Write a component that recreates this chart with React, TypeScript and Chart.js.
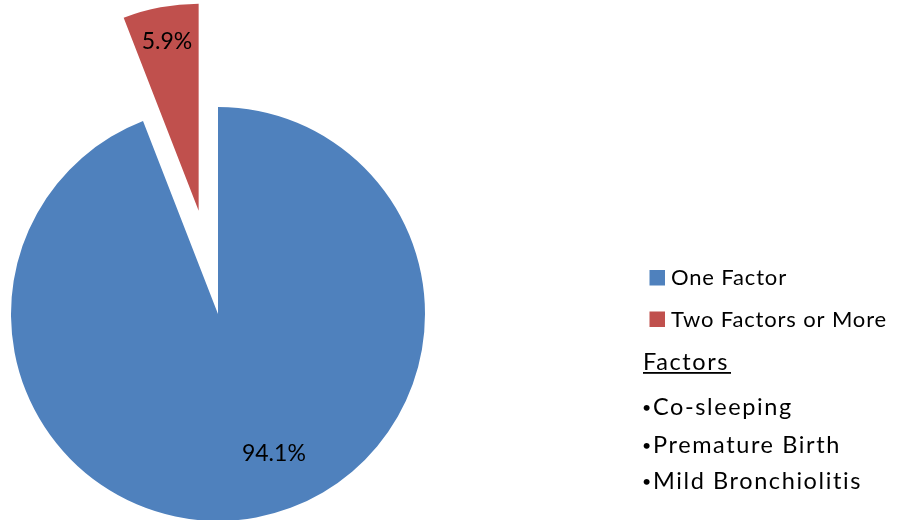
import React, { useEffect, useRef } from "react";
import { Chart, registerables } from "chart.js";

Chart.register(...registerables);

// ---- data ----
const categories = ["One Factor", "Two Factors or More"];
const shares = [94.1, 5.9];
const valueLabels = ["94.1%", "5.9%"];
const notesTitle = "Factors";
const notesItems = ["Co-sleeping", "Premature Birth", "Mild Bronchiolitis"];

// ---- styles / layout ----
const sliceColors = ["#4F81BD", "#C0504D"];
const explodeOffsets = [0, 105];
const labelAngleFractions = [0.467, 0.5];
const labelRadiusFractions = [0.727, 0.83];
const FONT_FAMILY = "Lato, 'Noto Sans', sans-serif";
const LABEL_FONT_SIZE = 23;
const LEGEND_FONT_SIZE = 22;
const LEGEND_SPACING = "0.85px";
const NOTES_FONT_SIZE = 23.5;
const NOTES_SPACING = "1.6px";

const W = 903;
const H = 520;

const overlayPlugin = {
  id: "explodeAndText",
  beforeDatasetDraw(chart: any, args: any) {
    const ctx = chart.ctx;
    const meta = args.meta;
    meta.data.forEach((arc: any, i: number) => {
      const mid = (arc.startAngle + arc.endAngle) / 2;
      const d = explodeOffsets[i] || 0;
      ctx.save();
      ctx.translate(Math.cos(mid) * d, Math.sin(mid) * d);
      arc.draw(ctx, chart.chartArea);
      ctx.restore();
    });
    return false;
  },
  afterDatasetsDraw(chart: any) {
    const ctx = chart.ctx;
    const meta = chart.getDatasetMeta(0);
    ctx.save();
    ctx.fillStyle = "#000000";
    ctx.textAlign = "center";
    ctx.textBaseline = "middle";
    ctx.font = `${LABEL_FONT_SIZE}px ${FONT_FAMILY}`;
    meta.data.forEach((arc: any, i: number) => {
      const mid = (arc.startAngle + arc.endAngle) / 2;
      const d = explodeOffsets[i] || 0;
      const cx = arc.x + Math.cos(mid) * d;
      const cy = arc.y + Math.sin(mid) * d;
      const a = arc.startAngle + (arc.endAngle - arc.startAngle) * labelAngleFractions[i];
      const r = arc.outerRadius * labelRadiusFractions[i];
      ctx.fillText(valueLabels[i], cx + Math.cos(a) * r, cy + Math.sin(a) * r);
    });

    // legend
    ctx.textAlign = "left";
    ctx.textBaseline = "alphabetic";
    ctx.font = `${LEGEND_FONT_SIZE}px ${FONT_FAMILY}`;
    (ctx as any).letterSpacing = LEGEND_SPACING;
    const boxX = 649.5;
    const boxSize = 15.5;
    const textX = 671;
    const baselines = [285, 326.5];
    categories.forEach((c, i) => {
      ctx.fillStyle = sliceColors[i];
      ctx.fillRect(boxX, baselines[i] - 15, boxSize, boxSize);
      ctx.fillStyle = "#000000";
      ctx.fillText(c, textX, baselines[i]);
    });

    // notes
    ctx.font = `${NOTES_FONT_SIZE}px ${FONT_FAMILY}`;
    (ctx as any).letterSpacing = NOTES_SPACING;
    const titleX = 643;
    const titleBase = 369.5;
    ctx.fillText(notesTitle, titleX, titleBase);
    ctx.fillRect(titleX, titleBase + 2.5, 88, 1.8);
    const itemBases = [415, 452.5, 489];
    notesItems.forEach((t, i) => {
      ctx.font = `16px ${FONT_FAMILY}`;
      (ctx as any).letterSpacing = "0px";
      ctx.fillText("\u2022", 642, itemBases[i] - 2);
      ctx.font = `${NOTES_FONT_SIZE}px ${FONT_FAMILY}`;
      (ctx as any).letterSpacing = NOTES_SPACING;
      ctx.fillText(t, 653, itemBases[i]);
    });
    ctx.restore();
  },
};

export default function App() {
  const ref = useRef<HTMLCanvasElement | null>(null);
  useEffect(() => {
    if (!ref.current) return;
    const chart = new Chart(ref.current, {
      type: "pie",
      data: {
        labels: categories,
        datasets: [
          {
            data: shares,
            backgroundColor: sliceColors,
            borderWidth: 0,
            radius: 207,
          } as any,
        ],
      },
      options: {
        responsive: false,
        animation: false,
        devicePixelRatio: 1,
        rotation: 0,
        layout: { padding: { left: 0, right: W - 436, top: 108, bottom: 0 } },
        plugins: {
          legend: { display: false },
          tooltip: { enabled: false },
          title: { display: false },
        },
      },
      plugins: [overlayPlugin],
    });
    return () => chart.destroy();
  }, []);
  return (
    <div style={{ position: "absolute", left: 0, top: 0, width: W, height: H, background: "#ffffff" }}>
      <canvas ref={ref} width={W} height={H} style={{ width: W, height: H, display: "block" }} />
    </div>
  );
}
